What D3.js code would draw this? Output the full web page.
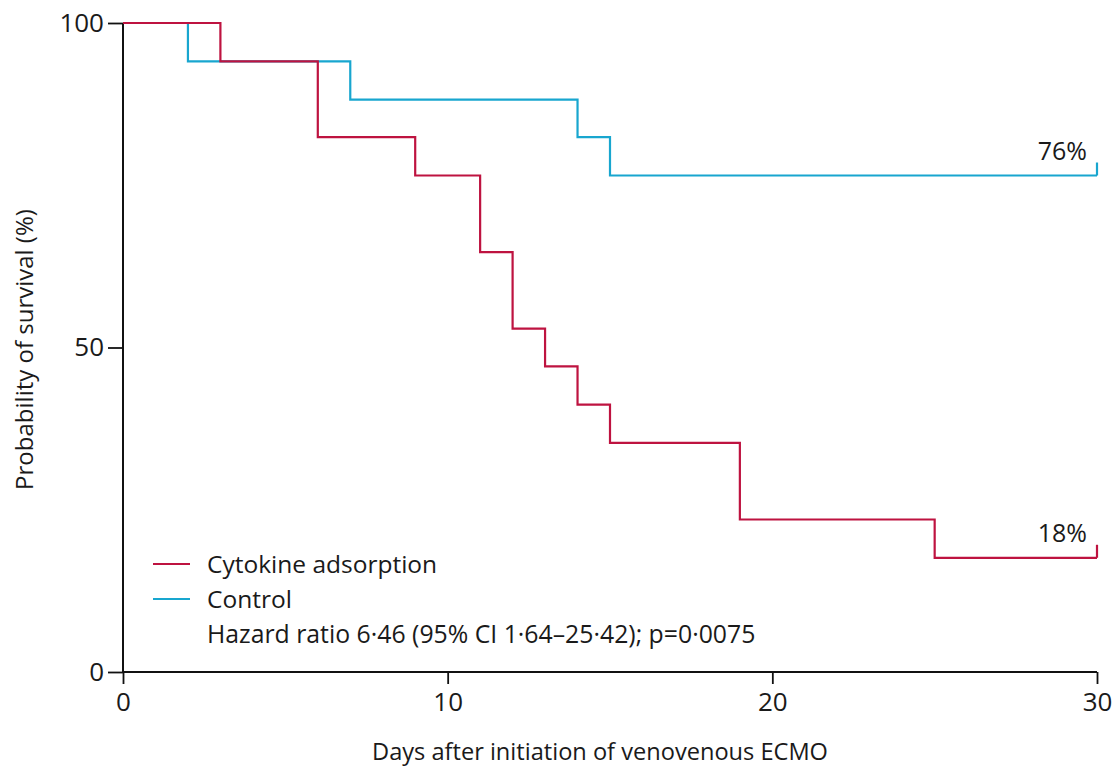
<!DOCTYPE html>
<html>
<head>
<meta charset="utf-8">
<script src="https://cdn.jsdelivr.net/npm/d3@7"></script>
<style>
  body { margin: 0; background: #fff; }
  text { font-family: "Open Sans", "Noto Sans", sans-serif; fill: #1a1a1a; }
</style>
</head>
<body>
<div id="chart"></div>
<script>
/**
 * DATA
 * */
// step times (days) and survival (%) after each step
const cytokineDays = [0, 3, 6, 9, 11, 12, 13, 14, 15, 19, 25, 30];
const cytokineSurv = [100, 94.1, 82.4, 76.5, 64.7, 52.9, 47.1, 41.2, 35.3, 23.5, 17.6, 17.6];
const controlDays = [0, 2, 7, 14, 15, 30];
const controlSurv = [100, 94.1, 88.2, 82.4, 76.5, 76.5];
const seriesNames = ["Cytokine adsorption", "Control"];
const seriesColors = ["#be1340", "#18a6cf"];
const endLabels = ["18%", "76%"];
const xTicks = [0, 10, 20, 30];
const yTicks = [0, 50, 100];
const hazardText = "Hazard ratio 6·46 (95% CI 1·64–25·42); p=0·0075";

/**
 * CONSTANTS
 * */
const width = 1112,
  height = 769,
  margin = { top: 23, bottom: 97, left: 123, right: 15 };

const svg = d3.select("#chart")
  .append("svg")
  .attr("width", width)
  .attr("height", height);

const x = d3.scaleLinear()
  .domain([0, 30])
  .range([margin.left, width - margin.right]);

const y = d3.scaleLinear()
  .domain([0, 100])
  .range([height - margin.bottom, margin.top]);

// axes
const xAxis = svg.append("g")
  .attr("transform", `translate(0,${y(0)})`)
  .call(d3.axisBottom(x).tickValues(xTicks).tickSize(12).tickPadding(9));

const yAxis = svg.append("g")
  .attr("transform", `translate(${x(0)},0)`)
  .call(d3.axisLeft(y).tickValues(yTicks).tickSize(15).tickPadding(4));

[xAxis, yAxis].forEach(g => {
  g.select(".domain").attr("stroke", "#111").attr("stroke-width", 2);
  g.selectAll(".tick line").attr("stroke", "#111").attr("stroke-width", 1.8);
  g.selectAll(".tick text")
    .attr("font-size", 26)
    .attr("fill", "#1a1a1a")
    .style("font-family", '"Open Sans", "Noto Sans", sans-serif');
});
// plain domain lines, no outer ticks
yAxis.select(".domain").attr("d", `M0,${y(100)}V${y(0)}`);
xAxis.select(".domain").attr("d", `M${x(0)},0H${x(30)}`);

// axis titles
svg.append("text")
  .attr("x", 600)
  .attr("y", 760)
  .attr("text-anchor", "middle")
  .attr("font-size", 23.6)
  .text("Days after initiation of venovenous ECMO");

svg.append("text")
  .attr("transform", `translate(33,${(y(0) + y(100)) / 2 + 2}) rotate(-90)`)
  .attr("text-anchor", "middle")
  .attr("font-size", 24)
  .text("Probability of survival (%)");

// curves
const step = d3.line()
  .x(d => x(d[0]))
  .y(d => y(d[1]))
  .curve(d3.curveStepAfter);

const series = [
  d3.zip(cytokineDays, cytokineSurv),
  d3.zip(controlDays, controlSurv),
];

// draw control first so cytokine sits on top
[1, 0].forEach(i => {
  svg.append("path")
    .datum(series[i])
    .attr("fill", "none")
    .attr("stroke", seriesColors[i])
    .attr("stroke-width", 2.2)
    .attr("d", step);

  const last = series[i][series[i].length - 1];
  // censor tick at the end
  svg.append("line")
    .attr("x1", x(last[0]))
    .attr("x2", x(last[0]))
    .attr("y1", y(last[1]))
    .attr("y2", y(last[1]) - 13)
    .attr("stroke", seriesColors[i])
    .attr("stroke-width", 2.2);

  svg.append("text")
    .attr("x", x(last[0]) - 10)
    .attr("y", y(last[1]) - 16)
    .attr("text-anchor", "end")
    .attr("font-size", 25)
    .text(endLabels[i]);
});

// legend
const legend = svg.append("g").attr("transform", "translate(153,564)");
seriesNames.forEach((name, i) => {
  const row = legend.append("g").attr("transform", `translate(0,${i * 35})`);
  row.append("line")
    .attr("x1", 0).attr("x2", 37)
    .attr("stroke", seriesColors[i])
    .attr("stroke-width", 2);
  row.append("text")
    .attr("x", 54)
    .attr("y", 9)
    .attr("font-size", 24.5)
    .text(name);
});
legend.append("text")
  .attr("x", 54)
  .attr("y", 79)
  .attr("font-size", 24.8)
  .text(hazardText);
</script>
</body>
</html>
